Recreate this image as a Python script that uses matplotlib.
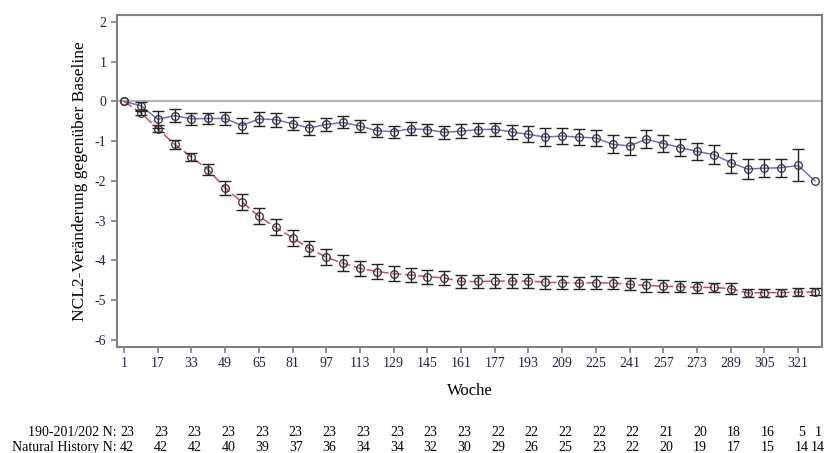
import numpy as np
import matplotlib.pyplot as plt
import matplotlib.transforms as mtransforms

plt.rcParams['font.family'] = ['Liberation Serif', 'DejaVu Serif']
plt.rcParams['axes.unicode_minus'] = False

# Wochen (alle 8 Wochen gemessen)
wochen = list(range(1, 330, 8))

# 190-201/202 (blau, durchgezogen)
blau_mw = [0, -0.11, -0.45, -0.36, -0.44, -0.43, -0.43, -0.61, -0.44, -0.46,
           -0.56, -0.67, -0.58, -0.53, -0.62, -0.74, -0.76, -0.69, -0.71, -0.78,
           -0.75, -0.71, -0.70, -0.77, -0.83, -0.90, -0.87, -0.90, -0.92, -1.08,
           -1.12, -0.95, -1.06, -1.16, -1.26, -1.34, -1.54, -1.70, -1.68, -1.67,
           -1.61, -2.00]
blau_se = [0, 0.10, 0.22, 0.16, 0.16, 0.15, 0.16, 0.18, 0.17, 0.18,
           0.16, 0.17, 0.16, 0.15, 0.15, 0.16, 0.15, 0.16, 0.15, 0.17,
           0.17, 0.16, 0.16, 0.18, 0.20, 0.22, 0.20, 0.20, 0.20, 0.23,
           0.22, 0.22, 0.22, 0.22, 0.22, 0.24, 0.25, 0.24, 0.22, 0.22,
           0.40, 0]

# Natural History (rot, gestrichelt)
rot_mw = [0, -0.29, -0.69, -1.08, -1.40, -1.72, -2.18, -2.53, -2.89, -3.17,
          -3.43, -3.70, -3.92, -4.07, -4.20, -4.28, -4.33, -4.37, -4.41, -4.44,
          -4.53, -4.53, -4.52, -4.52, -4.52, -4.55, -4.56, -4.57, -4.56, -4.57,
          -4.60, -4.63, -4.65, -4.66, -4.68, -4.68, -4.71, -4.82, -4.81, -4.81,
          -4.80, -4.79]
rot_se = [0, 0.06, 0.09, 0.11, 0.11, 0.14, 0.18, 0.20, 0.20, 0.20,
          0.20, 0.19, 0.20, 0.20, 0.19, 0.18, 0.19, 0.18, 0.18, 0.18,
          0.17, 0.17, 0.17, 0.17, 0.17, 0.17, 0.17, 0.16, 0.16, 0.15,
          0.15, 0.16, 0.15, 0.14, 0.13, 0.12, 0.13, 0.09, 0.10, 0.09,
          0.10, 0.09]

# Tabelle mit Patientenzahlen
n_wochen = list(range(1, 322, 16)) + [329]
n_studie = [23, 23, 23, 23, 23, 23, 23, 23, 23, 23, 23, 22, 22, 22, 22, 22,
            21, 20, 18, 16, 5, 1]
n_natural = [42, 42, 42, 40, 39, 37, 36, 34, 34, 32, 30, 29, 26, 25, 23, 22,
             20, 19, 17, 15, 14, 14]

x_ticks = list(range(1, 322, 16))

fig = plt.figure(figsize=(8.26, 4.53), dpi=100)
ax = fig.add_axes([116.7 / 826, 1 - 346.7 / 453, (822.3 - 116.7) / 826, (346.7 - 14.7) / 453])

ax.axhline(0, color='#b4b4b4', lw=1.5, zorder=1)

# Linien
ax.plot(wochen, blau_mw, color='#6b70c6', lw=1.1, zorder=2)
ax.plot(wochen, rot_mw, color='#d9485c', lw=1.1, dashes=(6, 2.5), zorder=2)

# Fehlerbalken
for mw, se in [(blau_mw, blau_se), (rot_mw, rot_se)]:
    w = [x for x, s in zip(wochen, se) if s > 0]
    m = [y for y, s in zip(mw, se) if s > 0]
    s = [s for s in se if s > 0]
    ax.errorbar(w, m, yerr=s, fmt='none', ecolor='#222222', elinewidth=1.0,
                capsize=4, capthick=1.0, zorder=3)

# Marker
ax.plot(wochen, blau_mw, 'o', ms=5.5, mfc='none', mec='#333333', mew=0.9, zorder=4)
ax.plot(wochen, rot_mw, 'o', ms=5.5, mfc='none', mec='#333333', mew=0.9, zorder=4)

ax.set_xlim(-2.5, 332.5)
ax.set_ylim(-6.17, 2.18)
ax.set_xticks(x_ticks)
ax.set_yticks(range(-6, 3))
ax.tick_params(direction='out', length=4.5, width=1.2, color='#808080',
               labelsize=10, labelcolor='#1f2444', pad=3)
for sp in ax.spines.values():
    sp.set_color('#808080')
    sp.set_linewidth(1.5)

ax.set_xlabel('Woche', fontsize=12, labelpad=9)
ax.set_ylabel('NCL2-Veränderung gegenüber Baseline', fontsize=12.5, labelpad=5)

# Tabelle unterhalb
trans = mtransforms.blended_transform_factory(ax.transData, fig.transFigure)
y1 = 1 - 433 / 453
y2 = 1 - 447.5 / 453
fig.text(117 / 826, y1, '190-201/202 N:', ha='right', va='center', fontsize=10)
fig.text(117 / 826, y2, 'Natural History N:', ha='right', va='center', fontsize=10)
for w, a, b in zip(n_wochen, n_studie, n_natural):
    ax.text(w + 1.5, y1, str(a), transform=trans, ha='center', va='center',
            fontsize=10, clip_on=False)
    ax.text(w + 1.5, y2, str(b), transform=trans, ha='center', va='center',
            fontsize=10, clip_on=False)

fig.savefig('out.png', dpi=100)
